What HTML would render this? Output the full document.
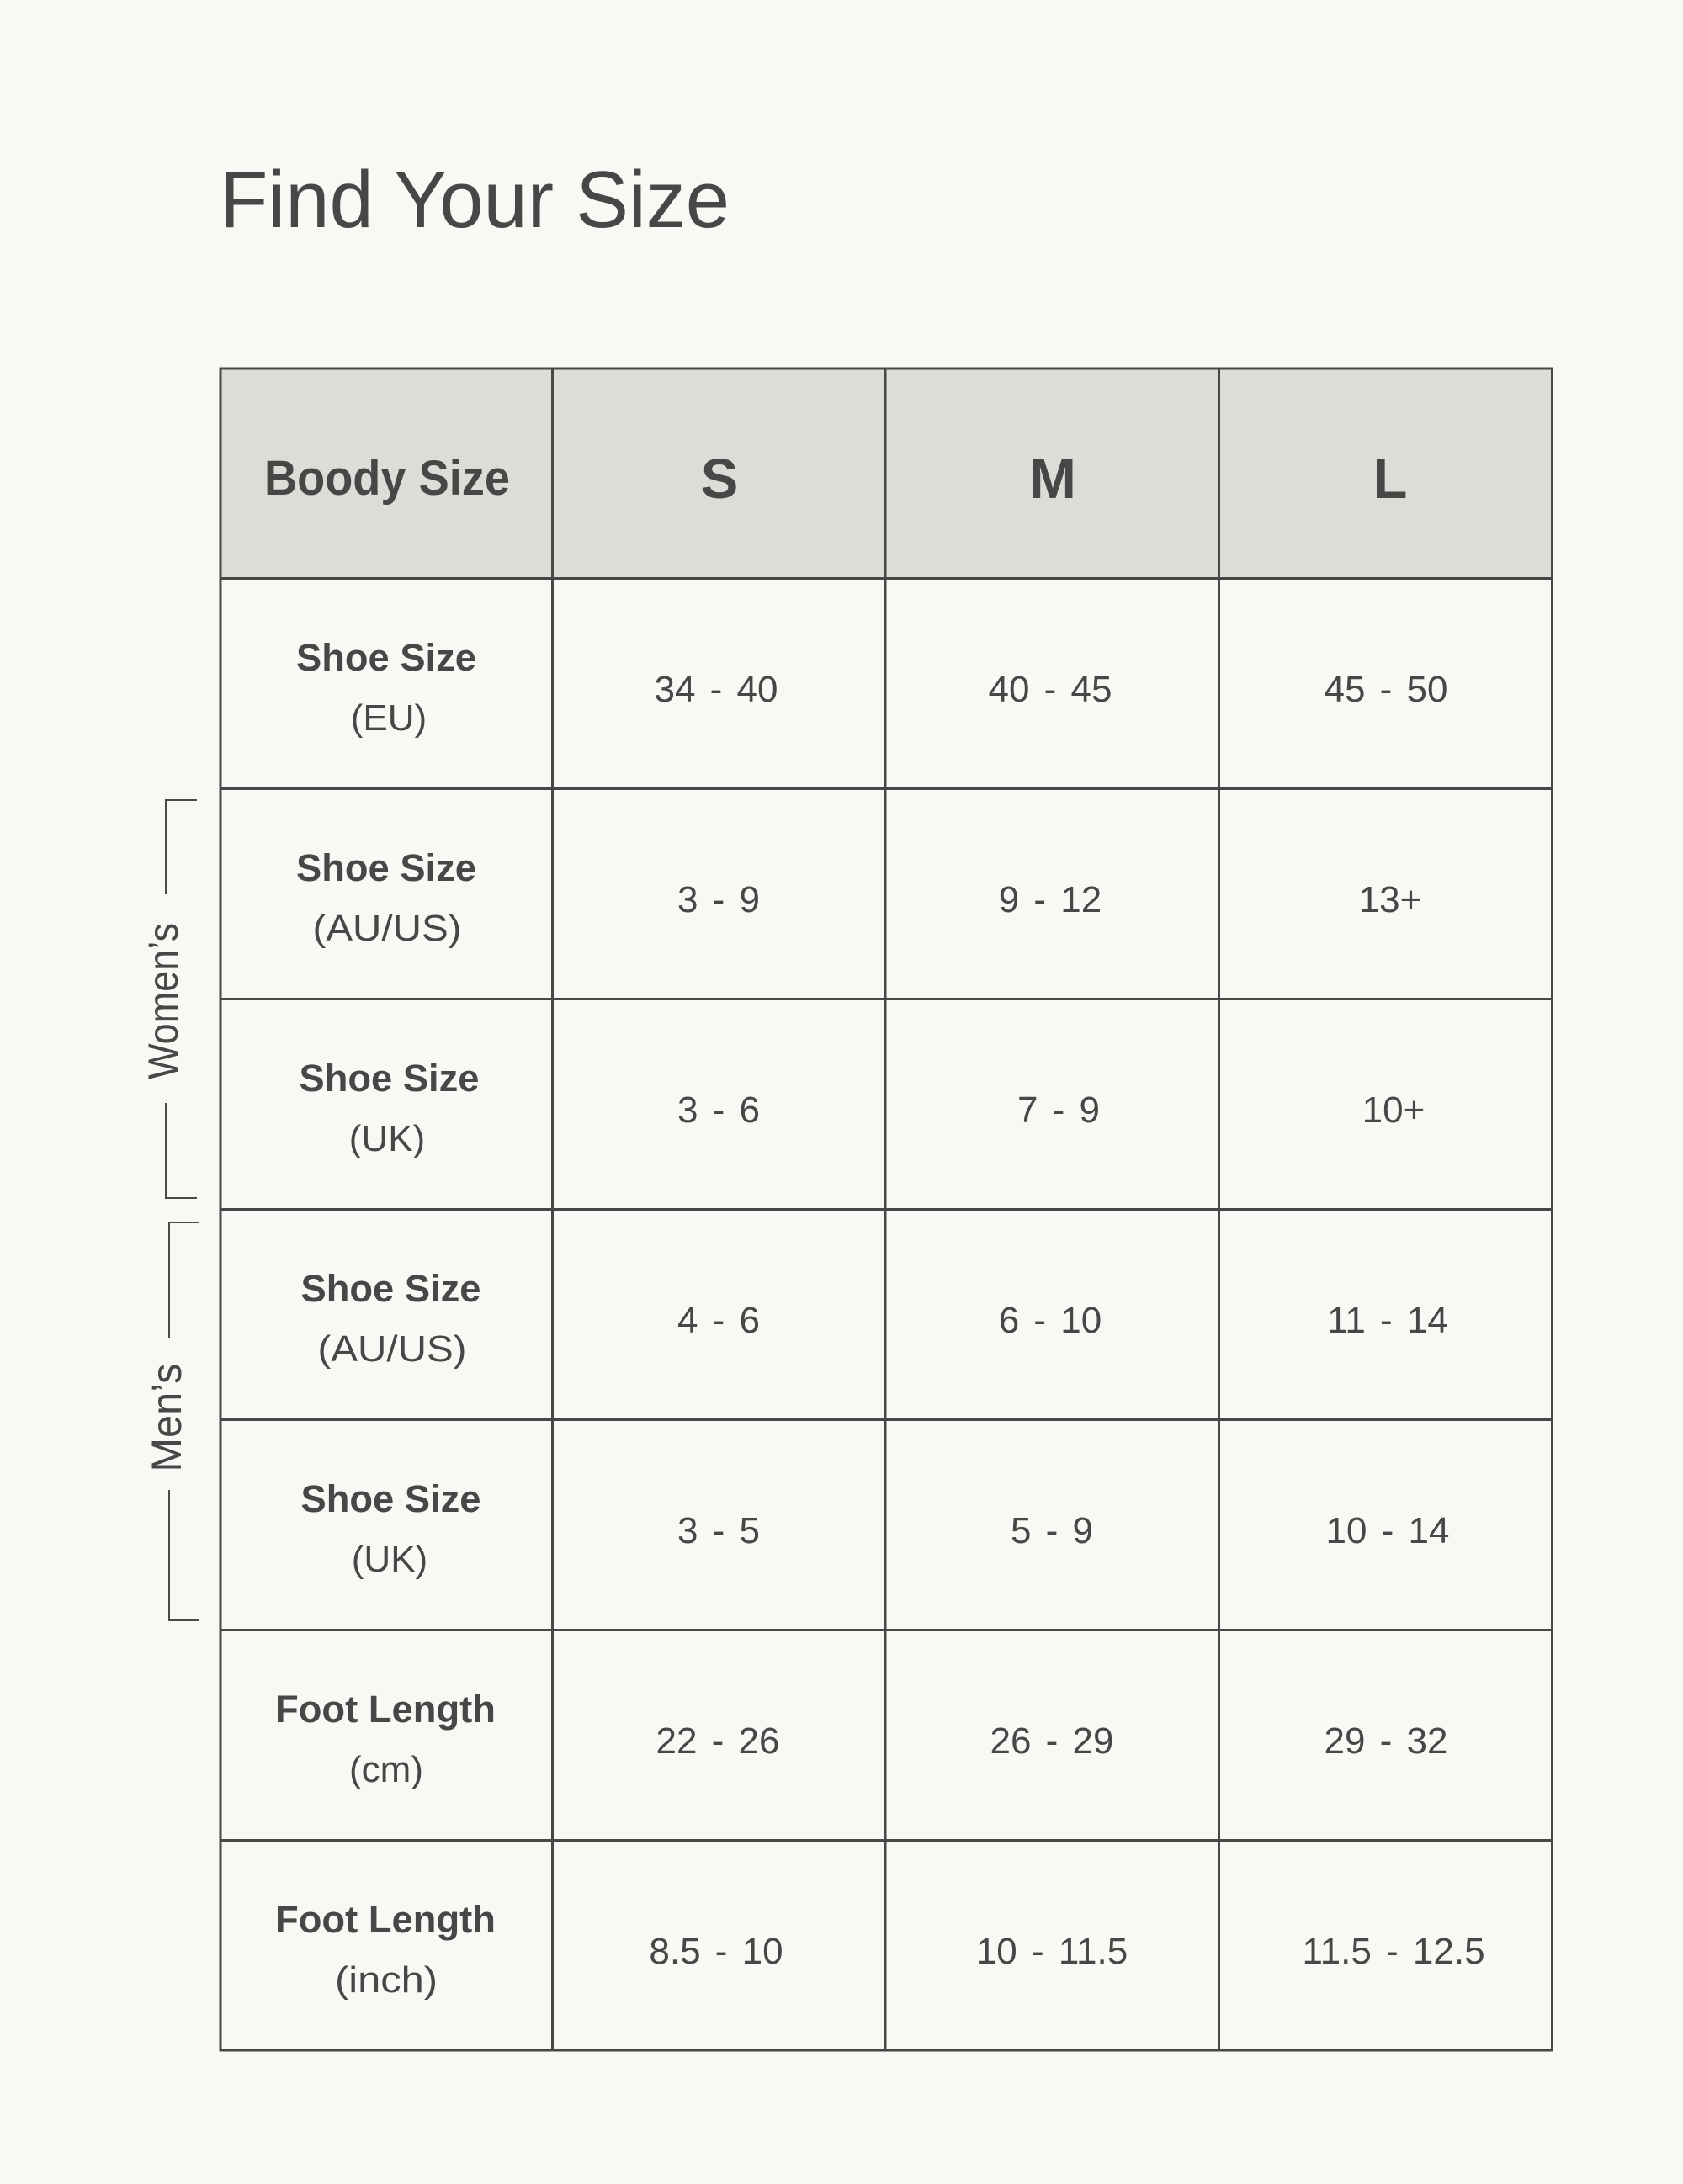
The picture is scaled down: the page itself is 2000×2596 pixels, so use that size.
<!DOCTYPE html>
<html>
<head>
<meta charset="utf-8">
<style>
  html, body { margin: 0; padding: 0; background: #f8f8f4; }
  body { width: 2000px; height: 2596px; overflow: hidden; }
  svg { display: block; }
  text { font-family: "Liberation Sans", "DejaVu Sans", sans-serif; fill: #474747; }
  .hd { font-weight: bold; font-size: 67px; }
  .lb { font-weight: bold; font-size: 45px; }
  .sb { font-size: 44px; }
  .v  { font-size: 44px; word-spacing: 5px; }
</style>
</head>
<body>
<svg width="2000" height="2596" viewBox="0 0 2000 2596" xmlns="http://www.w3.org/2000/svg">
  <rect x="0" y="0" width="2000" height="2596" fill="#f8f8f4"/>

  <!-- Title -->
  <text x="261" y="270" font-size="96" textLength="606" lengthAdjust="spacingAndGlyphs">Find Your Size</text>

  <!-- Header fill -->
  <rect x="262" y="438" width="1583" height="250" fill="#dddcd6"/>

  <!-- Grid lines -->
  <g stroke="#474747" stroke-width="3" fill="none">
    <line x1="260.5" y1="438" x2="1846" y2="438"/>
    <line x1="260.5" y1="687.5" x2="1846" y2="687.5"/>
    <line x1="260.5" y1="937.5" x2="1846" y2="937.5"/>
    <line x1="260.5" y1="1187.5" x2="1846" y2="1187.5"/>
    <line x1="260.5" y1="1437.5" x2="1846" y2="1437.5"/>
    <line x1="260.5" y1="1687.5" x2="1846" y2="1687.5"/>
    <line x1="260.5" y1="1937.5" x2="1846" y2="1937.5"/>
    <line x1="260.5" y1="2187.5" x2="1846" y2="2187.5"/>
    <line x1="260.5" y1="2437" x2="1846" y2="2437"/>

    <line x1="262" y1="436.5" x2="262" y2="2438.5"/>
    <line x1="656.5" y1="436.5" x2="656.5" y2="2438.5"/>
    <line x1="1052" y1="436.5" x2="1052" y2="2438.5"/>
    <line x1="1448.5" y1="436.5" x2="1448.5" y2="2438.5"/>
    <line x1="1844.5" y1="436.5" x2="1844.5" y2="2438.5"/>
  </g>

  <!-- Brackets -->
  <g stroke="#4a4a4a" stroke-width="2" fill="none">
    <polyline points="234,951 197,951 197,1063"/>
    <polyline points="197,1311 197,1424 234,1424"/>
    <polyline points="237,1453 201,1453 201,1590"/>
    <polyline points="201,1771 201,1926 237,1926"/>
  </g>
  <text transform="translate(211,1190) rotate(-90)" text-anchor="middle" font-size="50" textLength="186" lengthAdjust="spacingAndGlyphs">Women’s</text>
  <text transform="translate(215,1685) rotate(-90)" text-anchor="middle" font-size="50" textLength="129" lengthAdjust="spacingAndGlyphs">Men’s</text>

  <!-- Header text -->
  <text class="hd" x="460" y="588" text-anchor="middle" font-size="58" style="font-size:58px" textLength="292" lengthAdjust="spacingAndGlyphs">Boody Size</text>
  <text class="hd" x="855" y="592" text-anchor="middle">S</text>
  <text class="hd" x="1251" y="592" text-anchor="middle">M</text>
  <text class="hd" x="1652" y="592" text-anchor="middle">L</text>

  <!-- Row 1: EU (top 687.5) -->
  <text class="lb" x="459" y="797" text-anchor="middle" textLength="214" lengthAdjust="spacingAndGlyphs">Shoe Size</text>
  <text class="sb" x="462" y="868" text-anchor="middle">(EU)</text>
  <text class="v" x="851" y="834" text-anchor="middle">34 - 40</text>
  <text class="v" x="1248" y="834" text-anchor="middle">40 - 45</text>
  <text class="v" x="1647" y="834" text-anchor="middle">45 - 50</text>

  <!-- Row 2: Women AU/US (top 937.5) -->
  <text class="lb" x="459" y="1047" text-anchor="middle" textLength="214" lengthAdjust="spacingAndGlyphs">Shoe Size</text>
  <text class="sb" x="460" y="1118" text-anchor="middle" textLength="177" lengthAdjust="spacingAndGlyphs">(AU/US)</text>
  <text class="v" x="854" y="1084" text-anchor="middle">3 - 9</text>
  <text class="v" x="1248" y="1084" text-anchor="middle">9 - 12</text>
  <text class="v" x="1652" y="1084" text-anchor="middle">13+</text>

  <!-- Row 3: Women UK (top 1187.5) -->
  <text class="lb" x="462.5" y="1297" text-anchor="middle" textLength="214" lengthAdjust="spacingAndGlyphs">Shoe Size</text>
  <text class="sb" x="460" y="1368" text-anchor="middle">(UK)</text>
  <text class="v" x="854" y="1334" text-anchor="middle">3 - 6</text>
  <text class="v" x="1258" y="1334" text-anchor="middle">7 - 9</text>
  <text class="v" x="1656" y="1334" text-anchor="middle">10+</text>

  <!-- Row 4: Men AU/US (top 1437.5) -->
  <text class="lb" x="464.5" y="1547" text-anchor="middle" textLength="214" lengthAdjust="spacingAndGlyphs">Shoe Size</text>
  <text class="sb" x="466" y="1618" text-anchor="middle" textLength="177" lengthAdjust="spacingAndGlyphs">(AU/US)</text>
  <text class="v" x="854" y="1584" text-anchor="middle">4 - 6</text>
  <text class="v" x="1248" y="1584" text-anchor="middle">6 - 10</text>
  <text class="v" x="1649" y="1584" text-anchor="middle">11 - 14</text>

  <!-- Row 5: Men UK (top 1687.5) -->
  <text class="lb" x="464.5" y="1797" text-anchor="middle" textLength="214" lengthAdjust="spacingAndGlyphs">Shoe Size</text>
  <text class="sb" x="463" y="1868" text-anchor="middle">(UK)</text>
  <text class="v" x="854" y="1834" text-anchor="middle">3 - 5</text>
  <text class="v" x="1250" y="1834" text-anchor="middle">5 - 9</text>
  <text class="v" x="1649" y="1834" text-anchor="middle">10 - 14</text>

  <!-- Row 6: Foot Length cm (top 1937.5) -->
  <text class="lb" x="458" y="2047" text-anchor="middle" textLength="262" lengthAdjust="spacingAndGlyphs">Foot Length</text>
  <text class="sb" x="459" y="2118" text-anchor="middle">(cm)</text>
  <text class="v" x="853" y="2084" text-anchor="middle">22 - 26</text>
  <text class="v" x="1250" y="2084" text-anchor="middle">26 - 29</text>
  <text class="v" x="1647" y="2084" text-anchor="middle">29 - 32</text>

  <!-- Row 7: Foot Length inch (top 2187.5) -->
  <text class="lb" x="458" y="2297" text-anchor="middle" textLength="262" lengthAdjust="spacingAndGlyphs">Foot Length</text>
  <text class="sb" x="459" y="2368" text-anchor="middle" textLength="122" lengthAdjust="spacingAndGlyphs">(inch)</text>
  <text class="v" x="851" y="2334" text-anchor="middle">8.5 - 10</text>
  <text class="v" x="1250" y="2334" text-anchor="middle">10 - 11.5</text>
  <text class="v" x="1656" y="2334" text-anchor="middle">11.5 - 12.5</text>
</svg>
</body>
</html>
